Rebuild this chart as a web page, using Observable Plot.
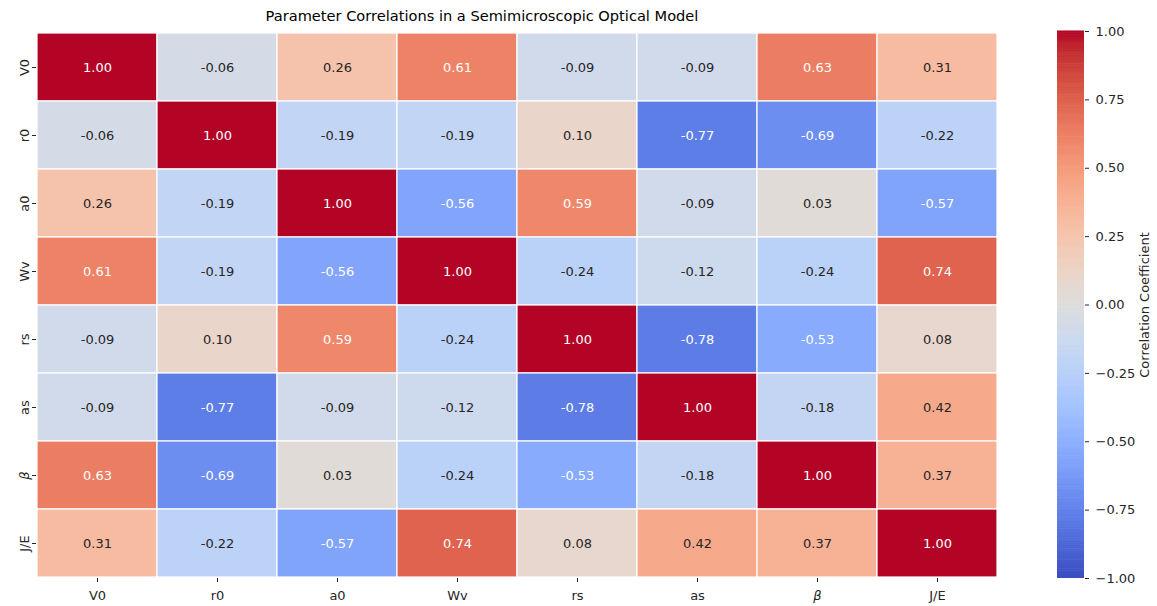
<!DOCTYPE html>
<html>
<head>
<meta charset="utf-8">
<script src="https://cdn.jsdelivr.net/npm/d3@7"></script>
<script src="https://cdn.jsdelivr.net/npm/@observablehq/plot@0.6"></script>
<style>
  html, body { margin: 0; padding: 0; background: #fff; }
  #wrap { position: relative; width: 1157px; height: 606px; font-family: "DejaVu Sans", sans-serif; }
  #title { position: absolute; left: 0; width: 964px; top: 7px; text-align: center; font-size: 14.6px; color: #000; }
  #heat { position: absolute; left: 0; top: 0; }
  #cbar { position: absolute; left: 1000px; top: 0; }
</style>
</head>
<body>
<div id="wrap">
  <div id="heat"></div>
  <div id="cbar"></div>
  <div id="title">Parameter Correlations in a Semimicroscopic Optical Model</div>
</div>
<script>
const params = ["V0", "r0", "a0", "Wv", "rs", "as", "β", "J/E"];
const rowV0 = [1.00, -0.06, 0.26, 0.61, -0.09, -0.09, 0.63, 0.31];
const rowR0 = [-0.06, 1.00, -0.19, -0.19, 0.10, -0.77, -0.69, -0.22];
const rowA0 = [0.26, -0.19, 1.00, -0.56, 0.59, -0.09, 0.03, -0.57];
const rowWv = [0.61, -0.19, -0.56, 1.00, -0.24, -0.12, -0.24, 0.74];
const rowRs = [-0.09, 0.10, 0.59, -0.24, 1.00, -0.78, -0.53, 0.08];
const rowAs = [-0.09, -0.77, -0.09, -0.12, -0.78, 1.00, -0.18, 0.42];
const rowBeta = [0.63, -0.69, 0.03, -0.24, -0.53, -0.18, 1.00, 0.37];
const rowJE = [0.31, -0.22, -0.57, 0.74, 0.08, 0.42, 0.37, 1.00];
const matrix = [rowV0, rowR0, rowA0, rowWv, rowRs, rowAs, rowBeta, rowJE];
const cbarTicks = [-1, -0.75, -0.5, -0.25, 0, 0.25, 0.5, 0.75, 1];

// matplotlib coolwarm control points
const coolwarm = [
  [59,76,192],[68,90,204],[77,104,215],[87,117,225],[98,130,234],[108,142,241],[119,154,247],[130,165,251],
  [141,176,254],[152,185,255],[163,194,255],[174,201,253],[184,208,249],[194,213,244],[204,217,238],[213,219,230],
  [221,221,221],[229,216,209],[236,211,197],[241,204,185],[245,196,173],[247,187,160],[247,177,148],[247,166,135],
  [244,154,123],[241,141,111],[236,127,99],[229,112,88],[222,96,77],[213,80,66],[203,62,56],[192,40,47],[180,4,38]
];
const colorOpts = {
  type: "linear",
  domain: coolwarm.map((_, i) => -1 + 2 * i / (coolwarm.length - 1)),
  range: coolwarm.map(c => `rgb(${c[0]},${c[1]},${c[2]})`),
  interpolate: "rgb",
  clamp: true
};

const cells = [];
matrix.forEach((row, i) => row.forEach((v, j) => cells.push({row: params[i], col: params[j], v})));

const font = "DejaVu Sans, sans-serif";

const heat = Plot.plot({
  width: 1000,
  height: 606,
  marginLeft: 36,
  marginRight: 2,
  marginTop: 31,
  marginBottom: 28,
  style: {fontFamily: font, fontSize: "13px", color: "#262626", background: "transparent"},
  x: {domain: params, padding: 0, label: null},
  y: {domain: params, padding: 0, label: null},
  color: colorOpts,
  marks: [
    Plot.cell(cells, {x: "col", y: "row", fill: "v", stroke: "white", strokeWidth: 1.2}),
    Plot.text(cells, {x: "col", y: "row", text: d => d.v.toFixed(2),
      fill: d => Math.abs(d.v) >= 0.5 ? "white" : "#262626", fontSize: 13}),
    Plot.axisX({anchor: "bottom", tickSize: 4, tickPadding: 8, label: null, fontSize: 13}),
    Plot.axisY({anchor: "left", tickSize: 4, tickPadding: 4, tickRotate: -90, label: null, fontSize: 13})
  ]
});
document.getElementById("heat").appendChild(heat);

const ramp = d3.range(-1, 1, 2 / 300).map(t => ({y1: t, y2: t + 2 / 300 + 0.002, v: t + 1 / 300}));
const cbar = Plot.plot({
  width: 157,
  height: 606,
  marginLeft: 57,
  marginRight: 73,
  marginTop: 31,
  marginBottom: 28,
  style: {fontFamily: font, fontSize: "13px", color: "#262626", background: "transparent"},
  x: {domain: [0, 1], axis: null},
  y: {domain: [-1, 1], label: null},
  color: colorOpts,
  marks: [
    Plot.rect(ramp, {x1: 0, x2: 1, y1: "y1", y2: "y2", fill: "v"}),
    Plot.axisY({anchor: "right", ticks: cbarTicks, tickFormat: d3.format(".2f"), tickSize: 4, tickPadding: 7,
      label: "Correlation Coefficient", labelAnchor: "center", labelArrow: "none", labelOffset: 64, fontSize: 13})
  ]
});
document.getElementById("cbar").appendChild(cbar);

// italic beta like matplotlib mathtext
document.querySelectorAll("#heat svg text").forEach(t => {
  if (t.textContent === "β") t.setAttribute("font-style", "italic");
});
</script>
</body>
</html>
